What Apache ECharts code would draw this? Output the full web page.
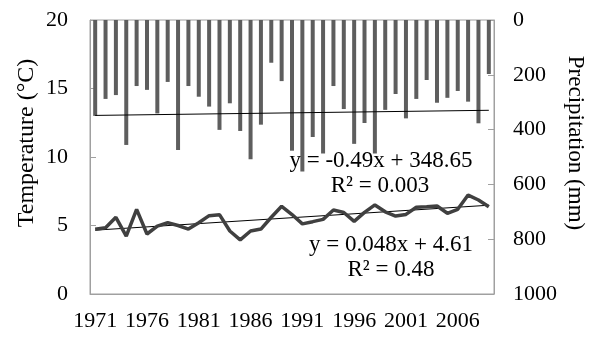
<!DOCTYPE html>
<html>
<head>
<meta charset="utf-8">
<script src="https://cdn.jsdelivr.net/npm/echarts@6/dist/echarts.min.js"></script>
<style>html,body{margin:0;padding:0;background:#fff;}#c{width:591px;height:338px;}</style>
</head>
<body>
<div id="c"></div>
<script>
var years = [];
for (var y = 1971; y <= 2009; y++) years.push(String(y));

var temperature = [4.72, 4.84, 5.6, 4.23, 6.18, 4.38, 4.96, 5.2, 5.0, 4.74,
  5.2, 5.72, 5.79, 4.6, 3.95, 4.6, 4.74, 5.6, 6.4, 5.8,
  5.12, 5.28, 5.45, 6.13, 5.95, 5.3, 5.96, 6.5, 6.0, 5.69,
  5.81, 6.33, 6.37, 6.42, 5.89, 6.18, 7.22, 6.86, 6.37];

var precipitation = [350, 288, 274, 456, 241, 255, 341, 226, 474, 241,
  280, 316, 401, 304, 405, 508, 382, 156, 223, 477,
  553, 427, 487, 241, 325, 452, 376, 487, 328, 270,
  359, 288, 219, 302, 284, 259, 298, 377, 197];

var tempTrend = [['1971', 4.66], ['2009', 6.48]];
var precTrend = [['1971', 348.2], ['2009', 329.5]];

var tempTicks = [0, 5, 10, 15, 20];
var precTicks = [0, 200, 400, 600, 800, 1000];

var eqPrec = 'y = -0.49x + 348.65';
var r2Prec = 'R² = 0.003';
var eqTemp = 'y = 0.048x + 4.61';
var r2Temp = 'R² = 0.48';

var FONT = '"Liberation Serif", "DejaVu Serif", serif';
var chart = echarts.init(document.getElementById('c'), null, {renderer: 'canvas'});

var txt = function (x, y, s, size, rot) {
  return {
    type: 'text', x: x, y: y, rotation: rot || 0, z: 100,
    style: {text: s, font: size + 'px ' + FONT, fill: '#000', align: 'center', verticalAlign: 'middle'}
  };
};

chart.setOption({
  animation: false,
  backgroundColor: '#fff',
  grid: {left: 90, right: 97, top: 20, bottom: 44, show: true, borderColor: '#a0a0a0', borderWidth: 1},
  xAxis: {
    type: 'category', data: years, boundaryGap: true,
    axisLine: {lineStyle: {color: '#a0a0a0'}},
    axisTick: {inside: true, length: 7, interval: 0, lineStyle: {color: '#a0a0a0'}},
    axisLabel: {interval: 4, margin: 16, fontFamily: FONT, fontSize: 22, color: '#000'},
    splitLine: {show: false}
  },
  yAxis: [{
    type: 'value', min: tempTicks[0], max: tempTicks[tempTicks.length - 1], interval: 5,
    position: 'left',
    axisLine: {show: true, lineStyle: {color: '#a0a0a0'}},
    axisTick: {show: true, inside: true, length: 6, lineStyle: {color: '#a0a0a0'}},
    axisLabel: {margin: 22, fontFamily: FONT, fontSize: 22, color: '#000'},
    splitLine: {show: false}
  }, {
    type: 'value', min: precTicks[0], max: precTicks[precTicks.length - 1], interval: 200,
    inverse: true, position: 'right',
    axisLine: {show: true, lineStyle: {color: '#a0a0a0'}},
    axisTick: {show: true, inside: true, length: 6, lineStyle: {color: '#a0a0a0'}},
    axisLabel: {margin: 19, fontFamily: FONT, fontSize: 22, color: '#000',
      formatter: function (v) { return String(v); }},
    splitLine: {show: false}
  }],
  series: [{
    name: 'Precipitation', type: 'bar', yAxisIndex: 1, data: precipitation,
    barWidth: 4, itemStyle: {color: '#5e5e5e'},
    markLine: {
      silent: true, symbol: 'none', label: {show: false},
      lineStyle: {color: '#000', width: 1, type: 'solid'},
      data: [[{coord: precTrend[0]}, {coord: precTrend[1]}]]
    }
  }, {
    name: 'Temperature', type: 'line', yAxisIndex: 0, data: temperature,
    showSymbol: false, symbol: 'none', z: 5,
    lineStyle: {color: '#404040', width: 3.5}, itemStyle: {color: '#404040'},
    markLine: {
      silent: true, symbol: 'none', label: {show: false},
      lineStyle: {color: '#000', width: 1, type: 'solid'},
      data: [[{coord: tempTrend[0]}, {coord: tempTrend[1]}]]
    }
  }],
  graphic: [
    txt(27, 143, 'Temperature (°C)', 24, Math.PI / 2),
    txt(575, 143, 'Precipitation (mm)', 23, -Math.PI / 2),
    txt(381, 161, eqPrec, 23),
    txt(380, 186, r2Prec, 23),
    txt(391, 245, eqTemp, 23),
    txt(391, 270, r2Temp, 23)
  ]
});
</script>
</body>
</html>
